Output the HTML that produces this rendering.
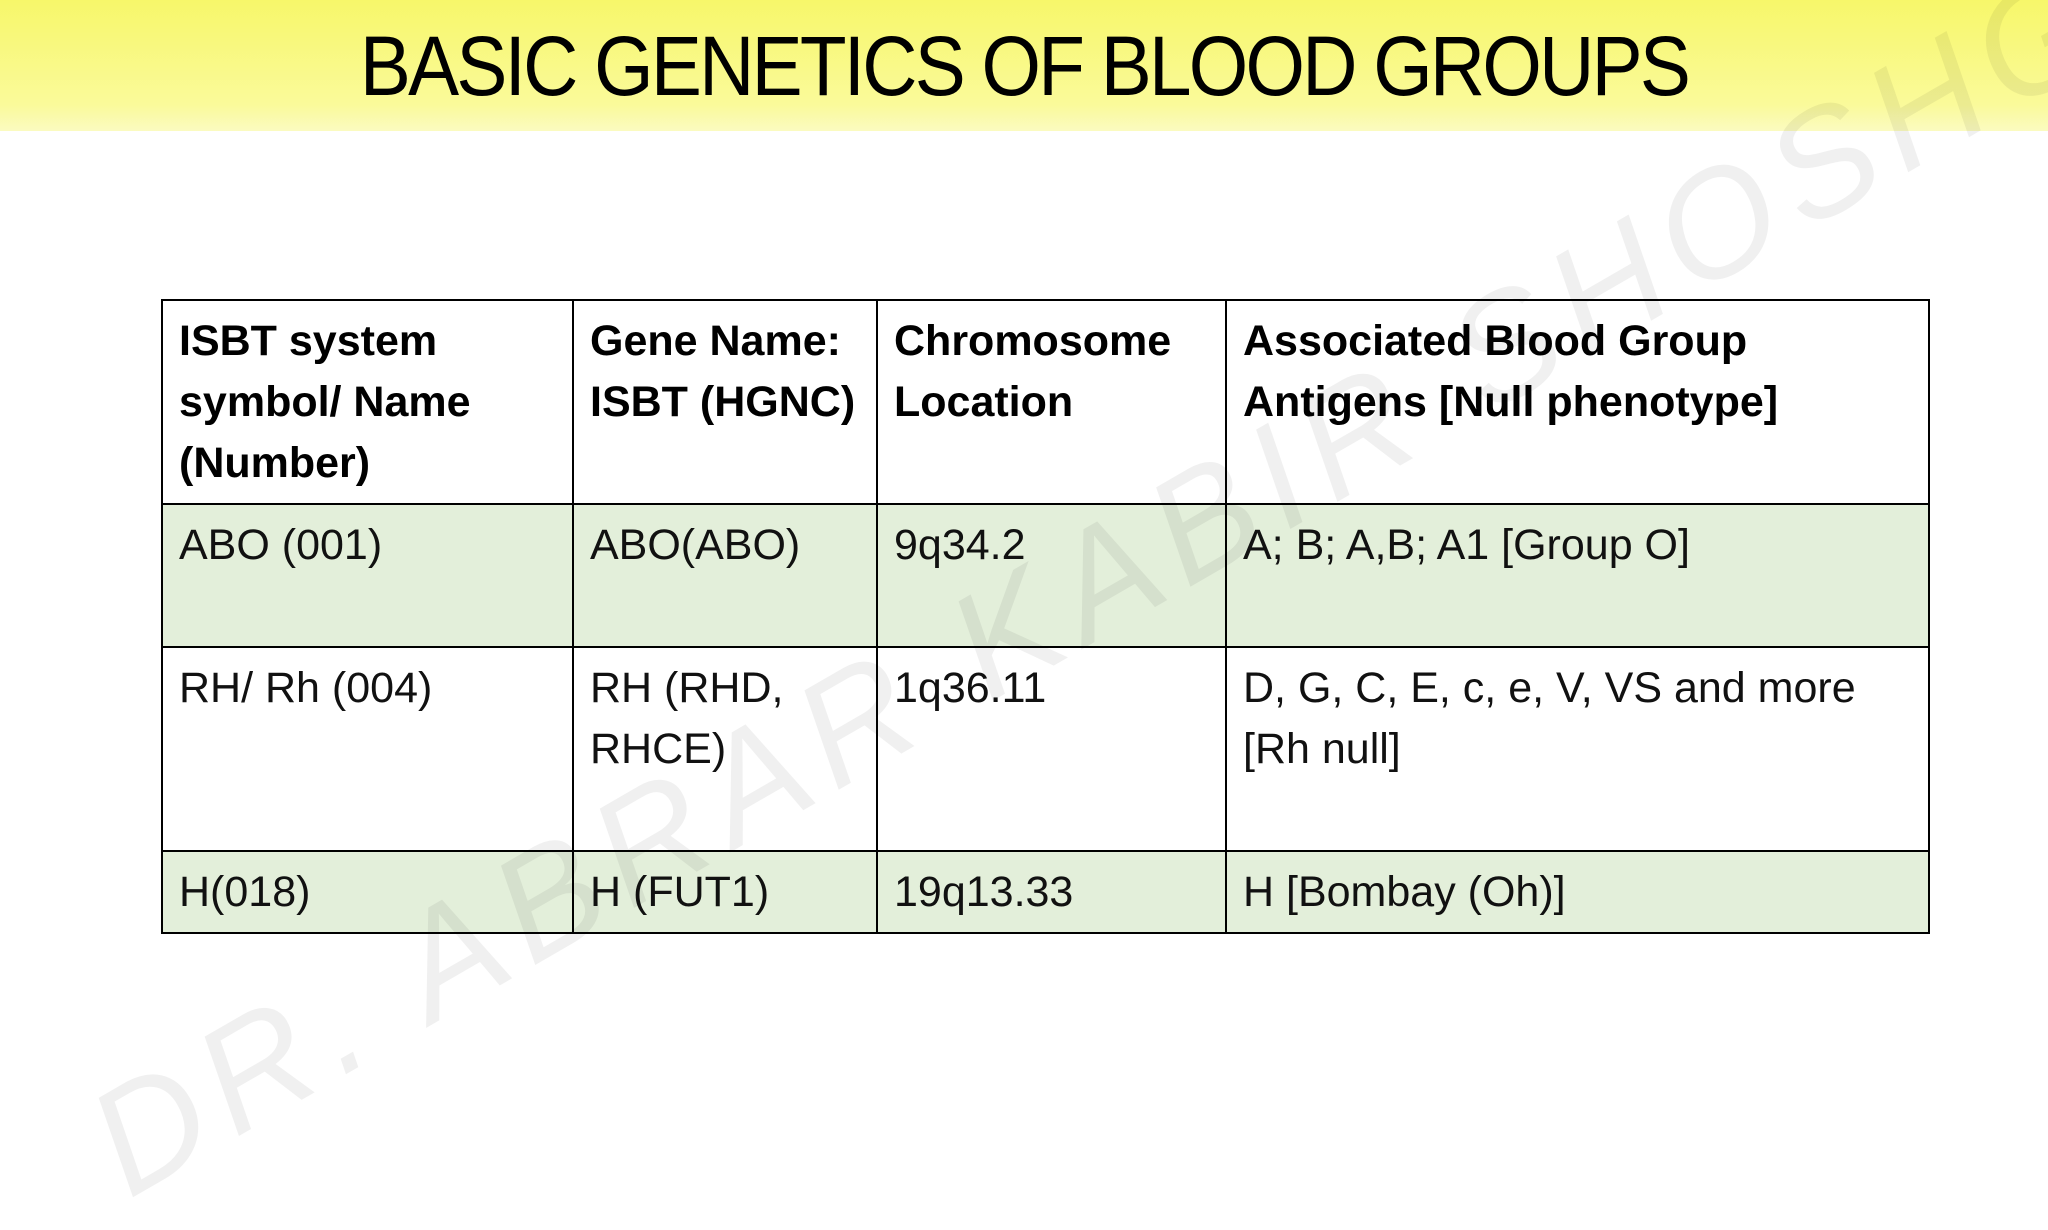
<!DOCTYPE html>
<html><head><meta charset="utf-8"><style>
body{margin:0;width:2048px;height:1152px;background:#fff;position:relative;overflow:hidden;font-family:"Liberation Sans",sans-serif}
#band{position:absolute;left:0;top:0;width:2048px;height:131px;background:linear-gradient(#f7f76a,#fafa9a 80%,#fbfbc0)}
#title{position:absolute;left:0;top:18px;width:2048px;text-align:center;font-size:84px;color:#000;letter-spacing:-3px;transform:scaleX(0.91)}
table{position:absolute;left:161px;top:299px;border-collapse:collapse;table-layout:fixed}
td{border:2px solid #000;vertical-align:top;padding:10px 16px 0 16px;font-size:43px;line-height:61px;color:#111;letter-spacing:0px;white-space:nowrap}
th{border:2px solid #000;vertical-align:top;text-align:left;padding:10px 16px 0 16px;font-size:43px;line-height:61px;font-weight:bold;letter-spacing:0px;white-space:nowrap}
.g td{background:#e3efda}
#wm{position:absolute;left:60px;top:1080px;font-size:150px;font-style:italic;color:rgba(0,0,0,0.06);transform:rotate(-30deg);transform-origin:left top;white-space:nowrap;font-family:"Liberation Sans",sans-serif;font-weight:100;letter-spacing:14px}
</style></head><body>
<div id="band"></div>
<div id="title">BASIC GENETICS OF BLOOD GROUPS</div>
<table>
<colgroup><col style="width:411px"><col style="width:304px"><col style="width:349px"><col style="width:703px"></colgroup>
<tr style="height:204px"><th>ISBT system<br>symbol/ Name<br>(Number)</th><th>Gene Name:<br>ISBT (HGNC)</th><th>Chromosome<br>Location</th><th>Associated Blood Group<br>Antigens [Null phenotype]</th></tr>
<tr class="g" style="height:143px"><td>ABO (001)</td><td>ABO(ABO)</td><td>9q34.2</td><td>A; B; A,B; A1 [Group O]</td></tr>
<tr style="height:204px"><td>RH/ Rh (004)</td><td>RH (RHD,<br>RHCE)</td><td>1q36.11</td><td>D, G, C, E, c, e, V, VS and more<br>[Rh null]</td></tr>
<tr class="g" style="height:82px"><td>H(018)</td><td>H (FUT1)</td><td>19q13.33</td><td>H [Bombay (Oh)]</td></tr>
</table>
<div id="wm">DR. ABRAR KABIR SHOSHGR</div>
</body></html>
